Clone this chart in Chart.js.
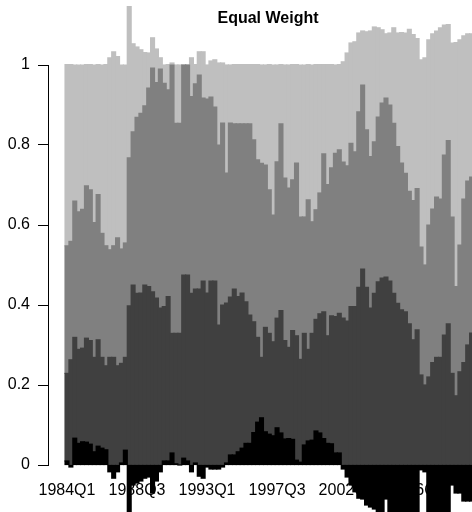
<!DOCTYPE html>
<html>
<head>
<meta charset="utf-8">
<script src="https://cdn.jsdelivr.net/npm/chart.js@4.4.1/dist/chart.umd.min.js"></script>
<style>
  html, body { margin: 0; padding: 0; background: #fff; overflow: hidden; }
  #wrap { width: 472px; height: 512px; overflow: hidden; position: relative; }
  canvas { position: absolute; left: 0; top: 0; }
</style>
</head>
<body>
<div id="wrap"><canvas id="chart" width="510" height="590"></canvas></div>
<script>
// Quarterly portfolio weights, stacked: black at the bottom, light grey on top.
const black = [
  0.01, -0.005, 0.067, 0.054, 0.058, 0.057, 0.052, 0.033, 0.047, 0.042,
  0.038, -0.017, -0.033, -0.017, 0.005, 0.037, -0.145, -0.05, -0.045, -0.04,
  -0.033, -0.03, -0.07, -0.04, -0.017, 0.01, 0.01, 0.03, 0.003, 0,
  0.017, 0.01, -0.017, 0.005, -0.028, -0.033, -0.005, -0.01, -0.01, -0.01,
  -0.005, 0.005, 0.025, 0.025, 0.033, 0.042, 0.054, 0.054, 0.081, 0.107,
  0.118, 0.083, 0.077, 0.073, 0.093, 0.08, 0.065, 0.066, 0.064, 0.012,
  0.007, 0.05, 0.06, 0.062, 0.085, 0.08, 0.066, 0.054, 0.053, 0.03,
  0.03, -0.01, -0.03, -0.05, -0.067, -0.083, -0.085, -0.1, -0.105, -0.11,
  -0.13, -0.13, -0.085, -0.13, -0.13, -0.13, -0.13, -0.13, -0.13, -0.13,
  -0.12, -0.012, -0.017, -0.13, -0.13, -0.13, -0.13, -0.13, -0.13, -0.05,
  -0.07, -0.07, -0.09, -0.09, -0.09
];
const dark = [
  0.219, 0.263, 0.252, 0.235, 0.234, 0.26, 0.259, 0.236, 0.266, 0.227,
  0.21, 0.269, 0.269, 0.248, 0.249, 0.232, 0.398, 0.45, 0.429, 0.43,
  0.45, 0.446, 0.433, 0.417, 0.392, 0.386, 0.411, 0.299, 0.326, 0.329,
  0.458, 0.465, 0.429, 0.435, 0.44, 0.46, 0.43, 0.46, 0.46, 0.35,
  0.4, 0.4, 0.395, 0.415, 0.388, 0.388, 0.354, 0.321, 0.277, 0.212,
  0.151, 0.261, 0.252, 0.235, 0.274, 0.306, 0.246, 0.228, 0.272, 0.311,
  0.257, 0.279, 0.229, 0.267, 0.279, 0.298, 0.317, 0.269, 0.32, 0.341,
  0.349, 0.367, 0.36, 0.396, 0.396, 0.444, 0.49, 0.444, 0.392, 0.429,
  0.458, 0.467, 0.47, 0.46, 0.429, 0.404, 0.388, 0.383, 0.353, 0.313,
  0.338, 0.225, 0.2, 0.22, 0.256, 0.269, 0.269, 0.325, 0.353, 0.229,
  0.173, 0.233, 0.256, 0.3, 0.33
];
const medium = [
  0.319, 0.296, 0.341, 0.344, 0.347, 0.381, 0.377, 0.337, 0.363, 0.31,
  0.3, 0.269, 0.279, 0.32, 0.286, 0.286, 0.37, 0.383, 0.44, 0.449,
  0.448, 0.496, 0.559, 0.539, 0.598, 0.558, 0.517, 0.671, 0.525, 0.525,
  0.525, 0.525, 0.492, 0.513, 0.535, 0.457, 0.485, 0.46, 0.435, 0.45,
  0.455, 0.325, 0.435, 0.413, 0.432, 0.423, 0.445, 0.478, 0.455, 0.444,
  0.485, 0.406, 0.359, 0.317, 0.391, 0.467, 0.406, 0.398, 0.377, 0.432,
  0.356, 0.291, 0.374, 0.279, 0.274, 0.302, 0.395, 0.378, 0.37, 0.408,
  0.409, 0.39, 0.388, 0.408, 0.387, 0.439, 0.46, 0.394, 0.379, 0.379,
  0.412, 0.438, 0.447, 0.44, 0.425, 0.392, 0.367, 0.346, 0.331, 0.348,
  0.353, 0.32, 0.3, 0.38, 0.384, 0.401, 0.396, 0.45, 0.458, 0.391,
  0.273, 0.317, 0.409, 0.41, 0.39
];
const light = [
  0.453, 0.442, 0.34, 0.367, 0.361, 0.303, 0.313, 0.394, 0.325, 0.421,
  0.453, 0.48, 0.485, 0.453, 0.46, 0.445, 0.378, 0.22, 0.176, 0.159,
  0.133, 0.088, 0.076, 0.084, 0.028, 0.046, 0.063, 0.005, 0.146, 0.146,
  0, 0, 0.097, 0.048, 0.058, 0.116, 0.085, 0.09, 0.118, 0.205,
  0.15, 0.27, 0.145, 0.148, 0.148, 0.148, 0.148, 0.148, 0.188, 0.238,
  0.246, 0.25, 0.313, 0.375, 0.242, 0.148, 0.283, 0.308, 0.288, 0.246,
  0.38, 0.38, 0.338, 0.392, 0.363, 0.321, 0.223, 0.3, 0.258, 0.221,
  0.213, 0.251, 0.282, 0.251, 0.275, 0.197, 0.135, 0.245, 0.314, 0.287,
  0.223, 0.183, 0.161, 0.18, 0.239, 0.284, 0.326, 0.351, 0.405, 0.415,
  0.375, 0.468, 0.518, 0.463, 0.438, 0.415, 0.428, 0.325, 0.29, 0.435,
  0.61, 0.513, 0.408, 0.368, 0.358
];

// Quarter names, one per bar
const quarters = [];
for (let y = 1984; y <= 2010; y++) {
  for (let q = 1; q <= 4; q++) quarters.push(`${y}Q${q}`);
}
quarters.length = black.length;

const tickLabels = ["1984Q1", "1988Q3", "1993Q1", "1997Q3", "2002Q1", "2006Q3"];
const yTicks = [0, 0.2, 0.4, 0.6, 0.8, 1];
const chartTitle = "Equal Weight";

const FONT = '"Liberation Sans", Arial, Helvetica, sans-serif';

const toPoints = (arr) => arr.map((v, i) => ({ x: i, y: v }));

// Title, left axis line and the quarter labels (drawn under the bars)
const decorations = {
  id: "decorations",
  beforeDatasetsDraw(chart) {
    const { ctx, scales } = chart;
    const x = scales.x, y = scales.y;
    ctx.save();
    ctx.fillStyle = "#000";
    ctx.font = `16px ${FONT}`;
    ctx.textAlign = "center";
    ctx.textBaseline = "middle";
    const labelY = y.getPixelForValue(0) + 26;
    tickLabels.forEach((lbl) => {
      ctx.fillText(lbl, x.getPixelForValue(quarters.indexOf(lbl)), labelY);
    });
    ctx.strokeStyle = "#000";
    ctx.lineWidth = 1;
    ctx.beginPath();
    ctx.moveTo(48.5, Math.round(y.getPixelForValue(1)));
    ctx.lineTo(48.5, Math.round(y.getPixelForValue(0)) + 1);
    ctx.stroke();
    ctx.restore();
  },
  afterDraw(chart) {
    const { ctx } = chart;
    ctx.save();
    ctx.fillStyle = "#000";
    ctx.font = `bold 16px ${FONT}`;
    ctx.textAlign = "center";
    ctx.textBaseline = "middle";
    ctx.fillText(chartTitle, 268, 19);
    ctx.restore();
  },
};

const series = [
  { label: "black", data: black, color: "#000000" },
  { label: "dark", data: dark, color: "#404040" },
  { label: "medium", data: medium, color: "#808080" },
  { label: "light", data: light, color: "#bfbfbf" },
];

new Chart(document.getElementById("chart"), {
  type: "bar",
  data: {
    datasets: series.map((s) => ({
      label: s.label,
      data: toPoints(s.data),
      backgroundColor: s.color,
      borderWidth: 0,
      inflateAmount: 0.6,
      categoryPercentage: 1,
      barPercentage: 1,
    })),
  },
  options: {
    responsive: false,
    animation: false,
    devicePixelRatio: 1,
    layout: { padding: { top: 5, right: 4, bottom: 5, left: 0 } },
    plugins: { legend: { display: false }, tooltip: { enabled: false }, title: { display: false } },
    scales: {
      x: {
        type: "linear",
        stacked: true,
        display: false,
        min: -4.88,
        max: 112.85,
        offset: false,
      },
      y: {
        stacked: true,
        min: -0.3,
        max: 1.15,
        afterBuildTicks: (scale) => {
          scale.ticks = yTicks.map((v) => ({ value: v }));
        },
        afterFit: (scale) => {
          scale.width = 48;
          scale.paddingTop = 0;
          scale.paddingBottom = 0;
        },
        ticks: {
          autoSkip: false,
          padding: 8,
          color: "#000",
          font: { family: FONT, size: 16 },
          callback: (v) => String(Math.round(v * 10) / 10),
        },
        grid: {
          drawOnChartArea: false,
          drawTicks: true,
          tickLength: 10,
          color: "#000",
          lineWidth: 1,
        },
        border: { display: false },
      },
    },
  },
  plugins: [decorations],
});
</script>
</body>
</html>
